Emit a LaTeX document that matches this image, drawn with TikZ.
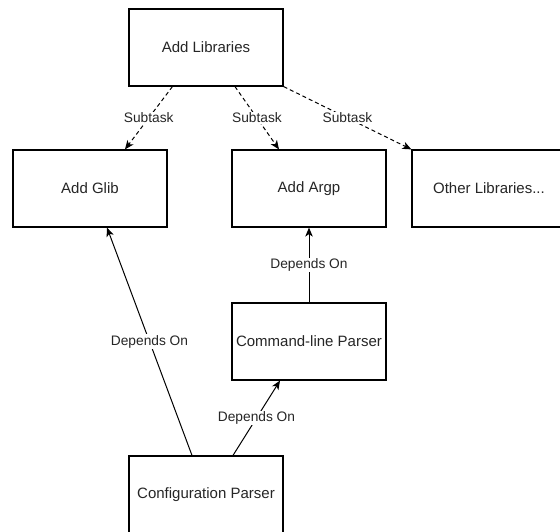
\documentclass[tikz,border=0pt]{standalone}
\usepackage{fontspec}
\setmainfont{Liberation Sans}
\usetikzlibrary{arrows.meta}
\tikzset{
  box/.style={draw=black, line width=1.2pt, fill=white, minimum width=154pt, minimum height=77pt, inner sep=0pt, font=\fontsize{15}{18}\selectfont, text=black!85},
  lbl/.style={fill=white, inner sep=1pt, font=\fontsize{13.75}{16}\selectfont, text=black!85},
  conn/.style={line width=1pt, -{Stealth[length=9pt,width=7.5pt,inset=2.5pt]}},
  dashconn/.style={conn, dash pattern=on 4pt off 3pt}
}
\begin{document}
\begin{tikzpicture}[x=1pt,y=-1pt]
\useasboundingbox (0,0) rectangle (560,531);
\clip (0,0) rectangle (560,531);
\fill[white] (0,0) rectangle (560,531);
\node[box] (lib) at (206,47.5) {Add Libraries};
\node[box] (glib) at (90,188.5) {Add Glib};
\node[box] (argp) at (309,188.5) {Add Argp};
\node[box] (other) at (489,188.5) {Other Libraries...};
\node[box] (cmd) at (309,341.5) {Command-line Parser};
\node[box] (conf) at (206,494.5) {Configuration Parser};

\draw[dashconn] ([xshift=44pt]lib.south west) -- node[lbl] {Subtask} ([xshift=35pt]glib.north);
\draw[dashconn] ([xshift=29pt]lib.south) -- node[lbl] {Subtask} ([xshift=-30pt]argp.north);
\draw[dashconn] (lib.south east) -- node[lbl] {Subtask} (other.north west);
\draw[conn] ([xshift=-14pt]conf.north) -- node[lbl] {Depends On} ([xshift=17pt]glib.south);
\draw[conn] ([xshift=27pt]conf.north) -- node[lbl] {Depends On} ([xshift=-29pt]cmd.south);
\draw[conn] (cmd.north) -- node[lbl] {Depends On} (argp.south);
\end{tikzpicture}
\end{document}
